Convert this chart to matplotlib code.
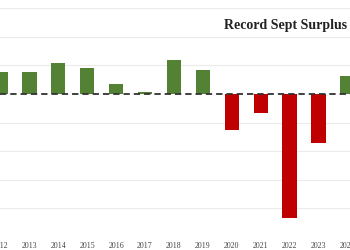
import matplotlib.pyplot as plt

# Saldo orçamentário de setembro (US$ bi)
years = [2012, 2013, 2014, 2015, 2016, 2017, 2018, 2019, 2020, 2021, 2022, 2023, 2024]
balance = [75, 76, 108, 91, 33, 8, 119, 83, -126, -66, -434, -173, 63]
gridlines = [-500, -400, -300, -200, -100, 100, 200, 300]

colors = ['#548235' if v >= 0 else '#c00000' for v in balance]

fig = plt.figure(figsize=(3.5, 2.5), dpi=100)
ax = fig.add_axes([0, 13 / 250, 1, 237 / 250])

for g in gridlines:
    ax.axhline(g, color='#ebebeb', linewidth=0.8, zorder=0)

ax.bar(years, balance, width=0.5, color=colors, zorder=2)
ax.axhline(0, color='#333333', linewidth=1.3, linestyle=(0, (3.5, 2.2)), zorder=3)

ax.set_xlim(2011.986, 2024.084)
ax.set_ylim(-500, 328)
ax.set_xticks(years)
ax.set_xticklabels([str(y) for y in years], fontsize=5.7, color='#444444',
                   family='Liberation Serif')
ax.tick_params(axis='x', length=0, pad=3.5)
ax.set_yticks([])
for s in ax.spines.values():
    s.set_visible(False)

fig.text(347 / 350, 1 - 26 / 250, 'Record Sept Surplus', ha='right', va='center',
         fontsize=10, fontweight='bold', color='#222222', family='Liberation Serif')

fig.savefig('out.png', dpi=100)
